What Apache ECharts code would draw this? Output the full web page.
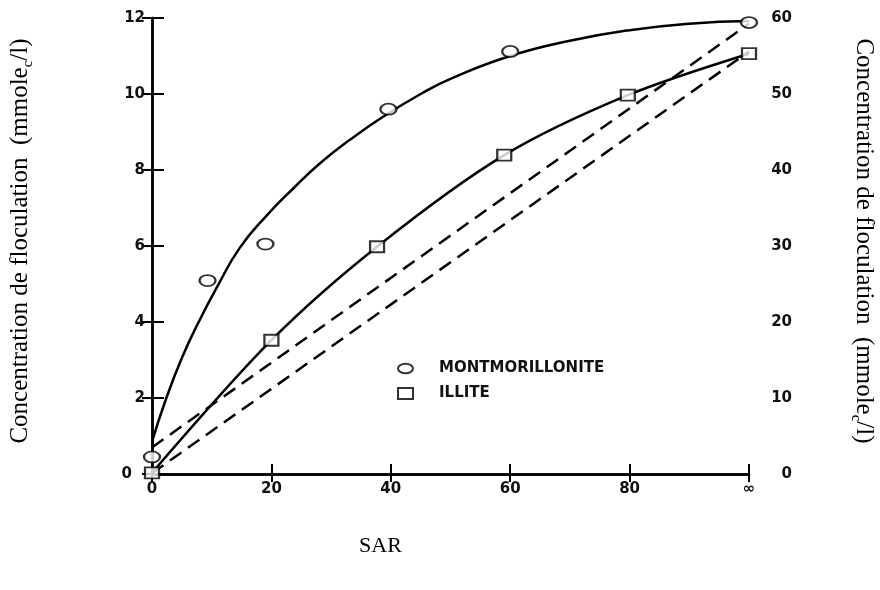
<!DOCTYPE html>
<html>
<head>
<meta charset="utf-8">
<script src="https://cdn.jsdelivr.net/npm/echarts@6/dist/echarts.min.js"></script>
<style>
  html, body { margin: 0; padding: 0; background: #fff; }
  #chart { width: 880px; height: 590px; }
</style>
</head>
<body>
<div id="chart"></div>
<script>
// SAR values (100 stands for the "infinity" column)
var xTicks = [0, 20, 40, 60, 80, 100];

// measured points
var montX = [0, 9.3, 19, 39.6, 60, 100];
var montY = [0.45, 5.09, 6.05, 9.6, 11.12, 11.88];
var illiteX = [0, 20, 37.7, 59, 79.7, 100];
var illiteY = [0.03, 3.52, 5.98, 8.39, 9.97, 11.06];

// hand-drawn fit through the montmorillonite points
var montCurveX = [0, 2.4, 5, 7.5, 11, 14.7, 19.2, 23.7, 28.1, 33.2, 38.7, 45, 50, 60, 70, 80, 90, 100];
var montCurveY = [0.85, 2.0, 3.05, 3.9, 4.95, 5.95, 6.8, 7.52, 8.17, 8.8, 9.4, 10.0, 10.4, 11.0, 11.4, 11.68, 11.85, 11.92];

// dashed reference lines
var dashUpperX = [0, 100];
var dashUpperY = [0.7, 11.85];
var dashLowerX = [0, 100];
var dashLowerY = [0.02, 11.12];

function pairs(xs, ys){
  return xs.map(function(x, i){ return [x, ys[i]]; });
}

var tickFont = {
  color: '#111',
  fontFamily: 'DejaVu Sans',
  fontWeight: 'bold',
  fontSize: 15
};
function titleFont(pad){
  return {
    color: '#000',
    fontFamily: 'Liberation Serif',
    fontSize: 25,
    lineHeight: 31,
    padding: pad,
    rich: {
      sub: { fontFamily: 'Liberation Serif', fontSize: 15, lineHeight: 31, verticalAlign: 'bottom' }
    }
  };
}
var axisBlack = { lineStyle: { color: '#000', width: 2.5 } };
var titleText = 'Concentration de floculation  (mmole{sub|c}/l)';
var ellipseIcon = 'path://M0,5a8,5 0 1,0 16,0a8,5 0 1,0 -16,0z';

var option = {
  backgroundColor: '#fff',
  animation: false,
  grid: { left: 152, right: 131, top: 18, bottom: 116, outerBoundsMode: 'none', containLabel: false },
  legend: {
    orient: 'vertical',
    left: 392,
    top: 356,
    itemWidth: 15,
    itemHeight: 11,
    itemGap: 10,
    textStyle: {
      color: '#111',
      fontFamily: 'DejaVu Sans',
      fontWeight: 'bold',
      fontSize: 15,
      padding: [0, 0, 0, 21]
    },
    data: [
      { name: 'MONTMORILLONITE', icon: ellipseIcon },
      { name: 'ILLITE', icon: 'rect' }
    ]
  },
  xAxis: [
    {
      type: 'value',
      min: 0, max: 100, interval: 20,
      position: 'bottom',
      axisLine: axisBlack,
      axisTick: { inside: true, length: 10, lineStyle: { color: '#000', width: 2 } },
      splitLine: { show: false },
      axisLabel: Object.assign({
        margin: 8,
        formatter: function (v) { return v === 100 ? '\u221E' : String(v); }
      }, tickFont),
      name: 'SAR',
      nameLocation: 'middle',
      nameGap: 61,
      nameTextStyle: { color: '#000', fontFamily: 'Liberation Serif', fontSize: 22, padding: [0, 140, 0, 0] }
    },
    {
      type: 'value',
      min: 0, max: 100, interval: 20,
      position: 'top',
      axisLine: axisBlack,
      axisTick: { inside: true, length: 8, lineStyle: { color: '#000', width: 2 } },
      splitLine: { show: false },
      axisLabel: { show: false }
    }
  ],
  yAxis: [
    {
      type: 'value',
      min: 0, max: 12, interval: 2,
      position: 'left',
      axisLine: axisBlack,
      axisTick: { inside: true, length: 12, lineStyle: { color: '#000', width: 2 } },
      splitLine: { show: false },
      axisLabel: Object.assign({
        margin: 7,
        formatter: function (v) { return v === 0 ? '{z|0}' : String(v); },
        rich: { z: { fontFamily: 'DejaVu Sans', fontWeight: 'bold', fontSize: 15, color: '#111', padding: [0, 13, 0, 0] } }
      }, tickFont),
      name: titleText,
      nameLocation: 'middle',
      nameRotate: 90,
      nameGap: 116,
      nameTextStyle: titleFont([0, 0, 0, 10])
    },
    {
      type: 'value',
      min: 0, max: 60, interval: 10,
      position: 'right',
      axisLine: axisBlack,
      axisTick: { inside: true, length: 10, lineStyle: { color: '#000', width: 2 } },
      splitLine: { show: false },
      axisLabel: Object.assign({ margin: 43, align: 'right' }, tickFont),
      name: titleText,
      nameLocation: 'middle',
      nameRotate: -90,
      nameGap: 99,
      nameTextStyle: titleFont([0, 10, 0, 0])
    }
  ],
  series: [
    {
      name: 'montCurve',
      type: 'line',
      smooth: 0.5,
      showSymbol: false,
      lineStyle: { color: '#000', width: 2.5 },
      data: pairs(montCurveX, montCurveY),
      z: 2
    },
    {
      name: 'illiteCurve',
      type: 'line',
      smooth: 0.3,
      showSymbol: false,
      lineStyle: { color: '#000', width: 2.5 },
      data: pairs(illiteX, illiteY),
      z: 2
    },
    {
      name: 'dashUpper',
      type: 'line',
      showSymbol: false,
      lineStyle: { color: '#000', width: 2.5, type: [14, 8] },
      data: pairs(dashUpperX, dashUpperY),
      z: 2
    },
    {
      name: 'dashLower',
      type: 'line',
      showSymbol: false,
      lineStyle: { color: '#000', width: 2.5, type: [14, 8] },
      data: pairs(dashLowerX, dashLowerY),
      z: 2
    },
    {
      name: 'MONTMORILLONITE',
      type: 'scatter',
      symbol: 'circle',
      symbolSize: [16, 11],
      itemStyle: { color: '#fff', borderColor: '#000', borderWidth: 2 },
      data: pairs(montX, montY),
      z: 5
    },
    {
      name: 'ILLITE',
      type: 'scatter',
      symbol: 'rect',
      symbolSize: [14, 11],
      itemStyle: { color: '#fff', borderColor: '#000', borderWidth: 2 },
      data: pairs(illiteX, illiteY),
      z: 5
    }
  ]
};

var chart = echarts.init(document.getElementById('chart'));
chart.setOption(option);

window.addEventListener('resize', function(){
  chart.resize();
});
</script>
</body>
</html>
